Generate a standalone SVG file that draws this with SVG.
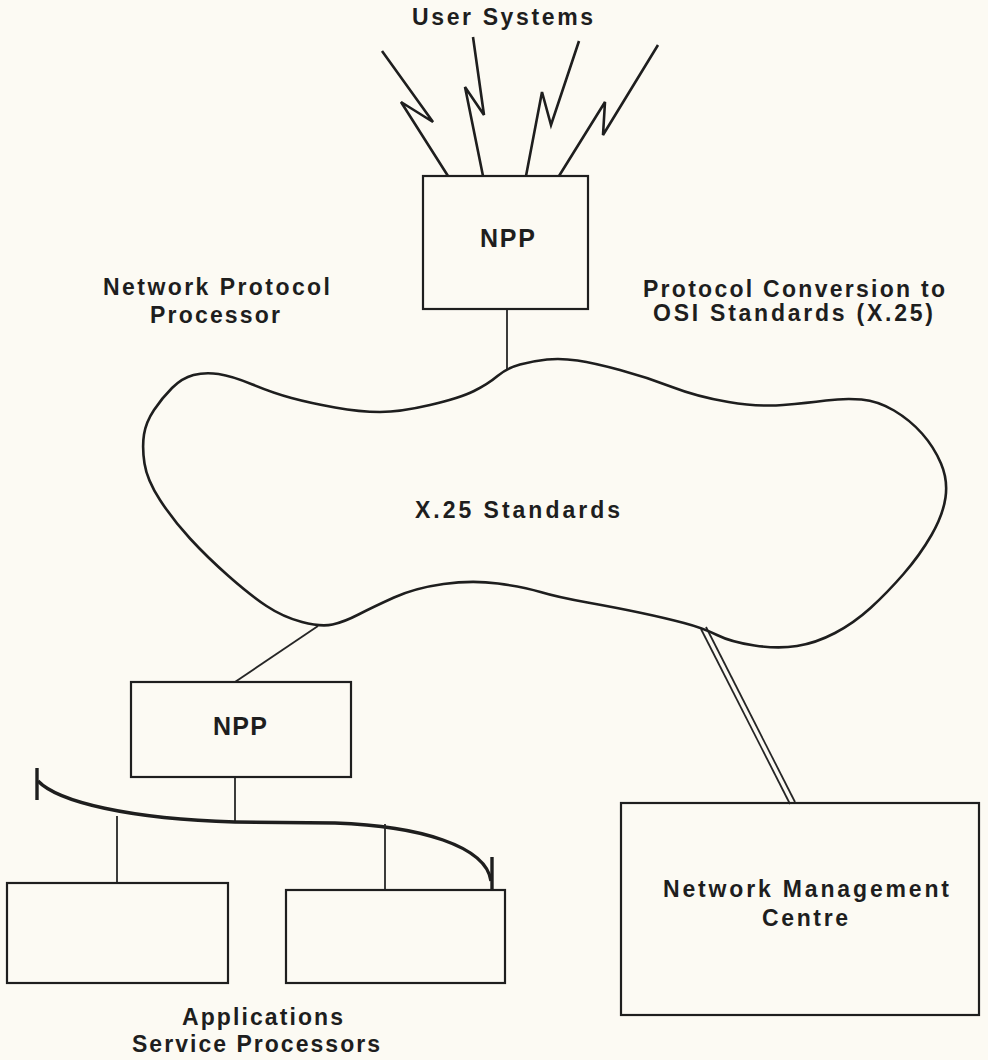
<svg xmlns="http://www.w3.org/2000/svg" width="988" height="1060" viewBox="0 0 988 1060">
<style>
  .bg { fill: #fcfaf3; }
  .box { fill: none; stroke: #1e1e1e; stroke-width: 2.2; }
  .cloud { fill: none; stroke: #1e1e1e; stroke-width: 2.6; stroke-linejoin: round; }
  .line { fill: none; stroke: #262626; stroke-width: 1.8; }
  .bolt { fill: none; stroke: #1e1e1e; stroke-width: 2.6; stroke-linejoin: miter; }
  .bus { fill: none; stroke: #1e1e1e; stroke-width: 3.4; }
  .tick { fill: none; stroke: #1e1e1e; stroke-width: 3.4; }
  .t { font-family: "Liberation Sans", Arial, Helvetica, sans-serif; font-weight: bold; font-size: 23px; fill: #1e1e1e; text-anchor: start; }
  .big { font-size: 25px; }
</style>
<rect class="bg" x="0" y="0" width="988" height="1060"/>

<g id="connectors">
  <polyline class="bolt" points="382,51 433,122 401,102 448,176"/>
  <polyline class="bolt" points="473,37 484,115 465,87 483,176"/>
  <polyline class="bolt" points="579,41 551,125 542,92 526,176"/>
  <polyline class="bolt" points="658,45 603,135 605,102 559,176"/>
  <line class="line" x1="507" y1="309" x2="507" y2="369"/>
  <line class="line" x1="318" y1="626" x2="235" y2="682"/>
  <line class="line" x1="701" y1="629" x2="790" y2="804"/>
  <line class="line" x1="706" y1="627" x2="795" y2="802"/>
  <line class="line" x1="235" y1="777" x2="235" y2="822"/>
  <path class="bus" d="M38,781 C58,802 130,819 235,822 L335,823 C420,826 486,846 491,881"/>
  <line class="tick" x1="37" y1="768" x2="37" y2="800"/>
  <line class="tick" x1="492" y1="857" x2="492" y2="889"/>
  <line class="line" x1="117" y1="816" x2="117" y2="883"/>
  <line class="line" x1="385" y1="824" x2="385" y2="890"/>
</g>

<g id="user-systems">
  <text class="t" x="412" y="25" textLength="181" lengthAdjust="spacing">User  Systems</text>
</g>

<g id="npp-top">
  <rect class="box" x="423" y="176" width="165" height="133"/>
  <text class="t big" x="480" y="247" textLength="55" lengthAdjust="spacing">NPP</text>
</g>

<g id="label-npp">
  <text class="t" x="103" y="295" textLength="227" lengthAdjust="spacing">Network  Protocol</text>
  <text class="t" x="150" y="323" textLength="130" lengthAdjust="spacing">Processor</text>
</g>

<g id="label-conversion">
  <text class="t" x="643" y="297" textLength="302" lengthAdjust="spacing">Protocol  Conversion  to</text>
  <text class="t" x="653" y="321" textLength="280" lengthAdjust="spacing">OSI  Standards  (X.25)</text>
</g>

<g id="cloud">
  <path class="cloud" d="M497.5,376 Q507,368 520,364.5 Q533,361 547,359.5 Q561,358 577.5,360.5 Q594,363 620,370 Q646,377 672,387 Q698,397 728.5,402 Q759,407 783,405 Q807,403 826,400.5 Q845,398 861.5,399.5 Q878,401 894,410.5 Q910,420 922,433.5 Q934,447 941,463.5 Q948,480 945.5,497.5 Q943,515 931.5,535 Q920,555 903.5,574 Q887,593 870.5,608 Q854,623 835,633 Q816,643 797,646 Q778,649 754.5,645.5 Q731,642 717,635 Q703,628 684,623 Q665,618 641.5,613 Q618,608 587.5,602.5 Q557,597 540.5,592 Q524,587 498,583.5 Q472,580 443.5,584 Q415,588 394,597.5 Q373,607 358.5,614.5 Q344,622 332.5,624.5 Q321,627 302,622 Q283,617 266.5,606 Q250,595 228.5,576 Q207,557 190,538.5 Q173,520 160,500 Q147,480 144.5,463.5 Q142,447 144,434.5 Q146,422 154,410 Q162,398 172,388 Q182,378 193.5,375 Q205,372 218.5,374 Q232,376 252.5,384.5 Q273,393 291.5,398 Q310,403 335,407.5 Q360,412 380,412 Q400,412 430,405 Q460,398 474,391 Q488,384 497.5,376 Z"/>
  <text class="t" x="415" y="518" textLength="205" lengthAdjust="spacing">X.25  Standards</text>
</g>

<g id="npp-bottom">
  <rect class="box" x="131" y="682" width="220" height="95"/>
  <text class="t big" x="213" y="735" textLength="54" lengthAdjust="spacing">NPP</text>
</g>

<g id="asp-1">
  <rect class="box" x="7" y="883" width="221" height="100"/>
</g>

<g id="asp-2">
  <rect class="box" x="286" y="890" width="219" height="93"/>
</g>

<g id="label-asp">
  <text class="t" x="182" y="1025" textLength="161" lengthAdjust="spacing">Applications</text>
  <text class="t" x="132" y="1052" textLength="248" lengthAdjust="spacing">Service  Processors</text>
</g>

<g id="nmc">
  <rect class="box" x="621" y="803" width="358" height="212"/>
  <text class="t" x="663" y="897" textLength="286" lengthAdjust="spacing">Network  Management</text>
  <text class="t" x="762" y="926" textLength="86" lengthAdjust="spacing">Centre</text>
</g>
</svg>
